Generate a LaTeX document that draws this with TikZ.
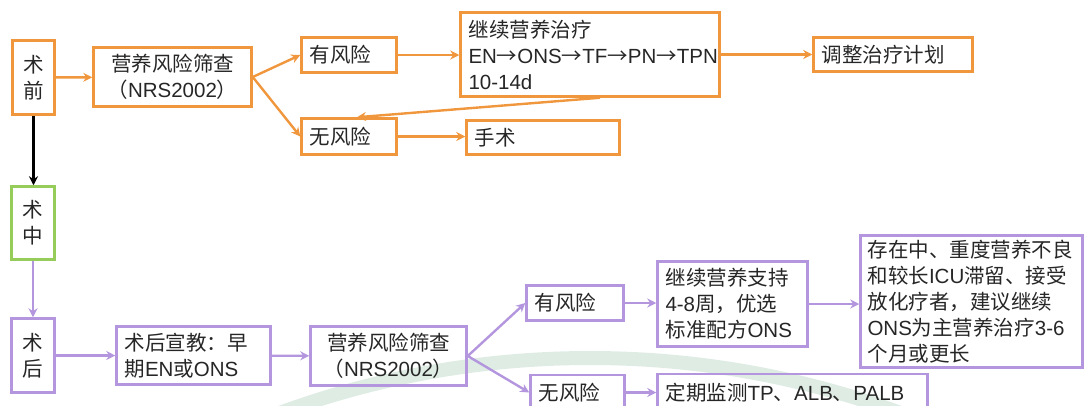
\documentclass[tikz,border=0pt]{standalone}
\usepackage{fontspec}
\setmainfont{Liberation Sans}
\newfontfamily\zhfont{Noto Sans CJK SC}
\newcommand{\zh}[1]{{\zhfont #1}}
\usepackage{tikz}
\usetikzlibrary{arrows.meta,calc,positioning}
\definecolor{preorange}{RGB}{240,150,60}
\definecolor{intgreen}{RGB}{150,205,90}
\definecolor{postpurple}{RGB}{180,150,222}
\definecolor{markgreen}{RGB}{222,236,228}
\tikzstyle{stagebox} = [rectangle, draw, line width=2.5pt, inner xsep=8pt, inner ysep=0pt, text=black!85, font=\fontsize{20.5}{26}\selectfont]
\tikzstyle{obox} = [stagebox, draw=preorange]
\tikzstyle{gbox} = [stagebox, draw=intgreen]
\tikzstyle{pbox} = [stagebox, draw=postpurple]
\tikzstyle{arrow} = [-{Stealth[length=9pt,width=9pt]}, line width=2.4pt]
\tikzstyle{oarrow} = [arrow, preorange]
\tikzstyle{parrow} = [arrow, postpurple]

\begin{document}
\begin{tikzpicture}[x=1pt, y=-1pt]
      \useasboundingbox (0,0) rectangle (1084,405);
      \clip (0,0) rectangle (1084,405);
      % faint watermark arc
      \draw[markgreen, line width=14pt] (590,1258) circle (900);
      %术前
      \node[obox, align=center, minimum width=42pt, minimum height=74pt, inner xsep=0pt](pre) at (33.5,77.5){\zh{术}\\\zh{前}};
      \node[obox, align=center, minimum width=158pt, minimum height=59pt](scr1) at (172.5,77){\zh{营养风险筛查}\\\zh{（}NRS2002\zh{）}};
      \node[obox, align=left, text width=79pt, minimum height=35pt](yes1) at (349,55){\zh{有风险}};
      \node[obox, align=left, text width=79pt, minimum height=36pt](no1) at (349,136.5){\zh{无风险}};
      \node[obox, align=left, text width=243pt, minimum height=84pt](cont1) at (590,54.5){\zh{继续营养治疗}\\EN\zh{→}ONS\zh{→}TF\zh{→}PN\zh{→}TPN\\10-14d};
      \node[obox, align=left, text width=143pt, minimum height=34pt](adj) at (893,54.5){\zh{调整治疗计划}};
      \node[obox, align=left, text width=137pt, minimum height=34pt](op) at (543,137.5){\zh{手术}};
      %术中
      \node[gbox, align=center, minimum width=43pt, minimum height=73pt, inner xsep=0pt](intra) at (33,223){\zh{术}\\\zh{中}};
      %术后
      \node[pbox, align=center, minimum width=43pt, minimum height=74pt, inner xsep=0pt](post) at (33,355.5){\zh{术}\\\zh{后}};
      \node[pbox, align=left, text width=138pt, minimum height=58pt](edu) at (193.5,355.5){\zh{术后宣教：早}\\\zh{期}EN\zh{或}ONS};
      \node[pbox, align=center, minimum width=156pt, minimum height=59pt](scr2) at (388.5,356){\zh{营养风险筛查}\\\zh{（}NRS2002\zh{）}};
      \node[pbox, align=left, text width=81pt, minimum height=35pt](yes2) at (575,303){\zh{有风险}};
      \node[pbox, align=left, text width=78pt, minimum height=35pt](no2) at (577.5,392.5){\zh{无风险}};
      \node[pbox, align=left, text width=134pt, minimum height=85pt](cont2) at (732.5,304){\zh{继续营养支持}\\4-8\zh{周，优选}\\\zh{标准配方}ONS};
      \node[pbox, align=left, text width=208pt, inner xsep=7pt, minimum height=132pt](adv) at (971.5,301.5){\zh{存在中、重度营养不良}\\\zh{和较长}ICU\zh{滞留、接受}\\\zh{放化疗者，建议继续}\\ONS\zh{为主营养治疗}3-6\\\zh{个月或更长}};
      \node[pbox, align=left, text width=254pt, minimum height=38pt](mon) at (792.5,393){\zh{定期监测}TP\zh{、}ALB\zh{、}PALB};
      %连接
      \draw[oarrow] (pre) -- (scr1);
      \draw[oarrow] (scr1.east) -- (yes1.west);
      \draw[oarrow] (scr1.east) -- (no1.west);
      \draw[oarrow] (yes1) -- (yes1 -| cont1.west);
      \draw[oarrow] (cont1.east |- adj) -- (adj);
      \draw[oarrow] ([xshift=10pt]cont1.south) -- ([xshift=8pt]no1.north);
      \draw[oarrow] (no1) -- (no1 -| op.west);
      \draw[arrow, line width=3pt, black] (pre.south) -- (pre.south |- intra.north);
      \draw[parrow] (intra) -- (post);
      \draw[parrow] (post) -- (edu);
      \draw[parrow] (edu) -- (scr2);
      \draw[parrow] (scr2.east) -- (yes2.west);
      \draw[parrow] (scr2.east) -- (no2.west);
      \draw[parrow] (yes2.east) -- (yes2.east -| cont2.west);
      \draw[parrow] (cont2.east) -- (cont2.east -| adv.west);
      \draw[parrow] (no2.east) -- (no2.east -| mon.west);
\end{tikzpicture}
\end{document}
